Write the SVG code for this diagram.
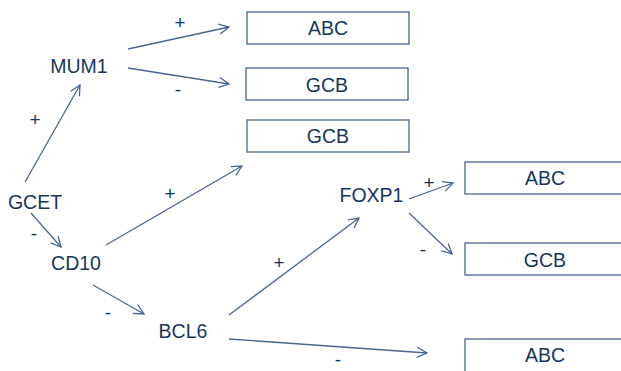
<svg xmlns="http://www.w3.org/2000/svg" width="621" height="371" viewBox="0 0 621 371">
<defs>
<marker id="ah" viewBox="0 0 12 12" refX="11" refY="6" markerWidth="12" markerHeight="12" markerUnits="userSpaceOnUse" orient="auto">
<path d="M1,1 L11,6 L1,11" fill="none" stroke="#4a6690" stroke-width="1.3"/>
</marker>
<style>
.t{font-family:"Liberation Sans",Arial,sans-serif;font-size:19.5px;fill:#17365d;text-anchor:middle}
.s{font-family:"Liberation Sans",Arial,sans-serif;font-size:19px;fill:#17365d;text-anchor:middle}
.b{fill:#fff;stroke:#4a6690;stroke-width:1.3}
.c line{stroke:#4a6690;stroke-width:1.3;marker-end:url(#ah)}
</style>
</defs>
<rect width="621" height="371" fill="#fff"/>
<g id="connectors" class="c">
<line x1="128" y1="49" x2="229" y2="27"/>
<line x1="128" y1="68" x2="229" y2="84"/>
<line x1="25" y1="182" x2="80" y2="85"/>
<line x1="106" y1="245" x2="242" y2="166"/>
<line x1="31" y1="213" x2="61" y2="247"/>
<line x1="93" y1="285" x2="144" y2="314"/>
<line x1="229" y1="315" x2="359" y2="218"/>
<line x1="229" y1="339" x2="427" y2="353"/>
<line x1="409" y1="199" x2="453" y2="183"/>
<line x1="409" y1="213" x2="452" y2="254"/>
</g>
<g id="signs">
<text class="s" x="180" y="29">+</text>
<text class="s" x="178" y="96">-</text>
<text class="s" x="35" y="126">+</text>
<text class="s" x="170" y="200">+</text>
<text class="s" x="34" y="240">-</text>
<text class="s" x="279" y="269">+</text>
<text class="s" x="108" y="319">-</text>
<text class="s" x="338" y="366">-</text>
<text class="s" x="429" y="189">+</text>
<text class="s" x="423" y="256">-</text>
</g>
<g id="mum1"><text class="t" x="79" y="73">MUM1</text></g>
<g id="gcet"><text class="t" x="35" y="209">GCET</text></g>
<g id="cd10"><text class="t" x="76" y="270">CD10</text></g>
<g id="bcl6"><text class="t" x="183" y="338">BCL6</text></g>
<g id="foxp1"><text class="t" x="371.5" y="202">FOXP1</text></g>
<g id="abc1"><rect class="b" x="247" y="12" width="162" height="32"/><text class="t" x="328" y="35">ABC</text></g>
<g id="gcb1"><rect class="b" x="246" y="68" width="162" height="32"/><text class="t" x="327" y="92">GCB</text></g>
<g id="gcb2"><rect class="b" x="247" y="120" width="162" height="32"/><text class="t" x="328" y="143">GCB</text></g>
<g id="abc2"><rect class="b" x="465" y="162" width="170" height="32"/><text class="t" x="545" y="185">ABC</text></g>
<g id="gcb3"><rect class="b" x="465" y="243" width="170" height="32"/><text class="t" x="545" y="267">GCB</text></g>
<g id="abc3"><rect class="b" x="465" y="339" width="170" height="40"/><text class="t" x="545" y="362">ABC</text></g>
</svg>
